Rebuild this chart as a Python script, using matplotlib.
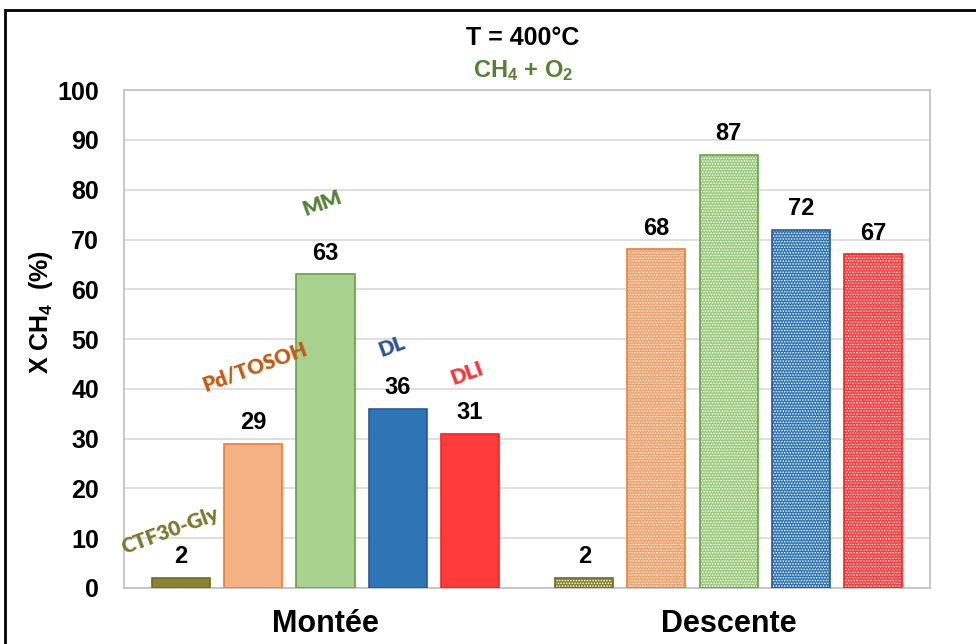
import matplotlib.pyplot as plt
from matplotlib.patches import Rectangle

plt.rcParams['font.family'] = ['Liberation Sans', 'DejaVu Sans']
plt.rcParams['mathtext.fontset'] = 'custom'
plt.rcParams['mathtext.rm'] = 'Liberation Sans:bold'
plt.rcParams['mathtext.it'] = 'Liberation Sans:bold'
plt.rcParams['mathtext.bf'] = 'Liberation Sans:bold'
plt.rcParams['hatch.linewidth'] = 0.7

# Données
etapes = ['Montée', 'Descente']
catalyseurs = ['CTF30-Gly', 'Pd/TOSOH', 'MM', 'DL', 'DLI']
montee = [2, 29, 63, 36, 31]
descente = [2, 68, 87, 72, 67]
yticks = [0, 10, 20, 30, 40, 50, 60, 70, 80, 90, 100]

couleurs = ['#8A8431', '#F4B183', '#A9D18E', '#2E75B6', '#FF3B3B']
couleurs_pt = ['#8A8431', '#F5A068', '#9BCB7B', '#2E75B6', '#FF3B3B']
bords = ['#6F6A25', '#ED7D31', '#6A9F45', '#2F5597', '#FF1F1F']
couleurs_txt = ['#7A7A2E', '#C55A11', '#548235', '#2F5597', '#FF3333']

fig = plt.figure(figsize=(9.76, 6.44), dpi=100)
ax = fig.add_axes([0.127, 0.087, 0.826, 0.773])

pas = 0.179
larg = 0.144
for i in range(len(catalyseurs)):
    # Montée : barres pleines
    x1 = 0.5 + (i - 2) * pas
    ax.bar(x1, montee[i], width=larg, color=couleurs[i], edgecolor=bords[i], linewidth=1.2, zorder=3)
    ax.annotate(str(montee[i]), (x1, montee[i]), xytext=(0, 7), textcoords='offset points',
                ha='center', va='bottom', fontsize=17, fontweight='bold', zorder=5)
    # Descente : barres pointillées
    x2 = 1.5 + (i - 2) * pas
    ax.bar(x2, descente[i], width=larg, color=couleurs_pt[i], edgecolor='#FFFFFF', linewidth=0,
           hatch='.' * 6, zorder=3)
    ax.bar(x2, descente[i], width=larg, fill=False, edgecolor=bords[i], linewidth=1.2, zorder=4)
    ax.annotate(str(descente[i]), (x2, descente[i]), xytext=(0, 7), textcoords='offset points',
                ha='center', va='bottom', fontsize=17, fontweight='bold', zorder=5)

# Noms des catalyseurs (inclinés)
pos_noms = [(0.114, 11.6), (0.325, 44.4), (0.491, 77.3), (0.665, 48.6), (0.851, 43.2)]
for i, nom in enumerate(catalyseurs):
    ax.text(pos_noms[i][0], pos_noms[i][1], nom, color=couleurs_txt[i], fontsize=15,
            fontweight='heavy', family=['Lato', 'DejaVu Sans'], rotation=20,
            ha='center', va='center', zorder=5)

ax.set_xlim(0, 2)
ax.set_ylim(0, 100)
ax.set_yticks(yticks)
ax.set_xticks([0.5, 1.5])
ax.set_xticklabels(etapes, fontsize=22, fontweight='bold')
for lab in ax.get_yticklabels():
    lab.set_fontsize(18)
    lab.set_fontweight('bold')
ax.tick_params(axis='y', length=0, pad=18)
ax.tick_params(axis='x', length=0, pad=15)
ax.grid(axis='y', color='#D9D9D9', linewidth=1.2, zorder=0)
ax.set_axisbelow(True)
for s in ax.spines.values():
    s.set_color('#BFBFBF')
    s.set_linewidth(1.2)

ax.set_ylabel('X CH$_4$  (%)', fontsize=18, fontweight='bold')
ax.yaxis.set_label_coords(-0.086, 0.554)

# Titre
fig.text(0.536, 0.941, 'T = 400°C', ha='center', va='center', fontsize=18, fontweight='bold')
fig.text(0.536, 0.891, 'CH$_4$ + O$_2$', ha='center', va='center', fontsize=17,
         fontweight='bold', color='#548235')

# Cadre du graphique
fig.patches.append(Rectangle((0.005, -0.2), 1.2, 1.184, transform=fig.transFigure,
                             fill=False, edgecolor='black', linewidth=2))

fig.savefig('out.png', dpi=100)
